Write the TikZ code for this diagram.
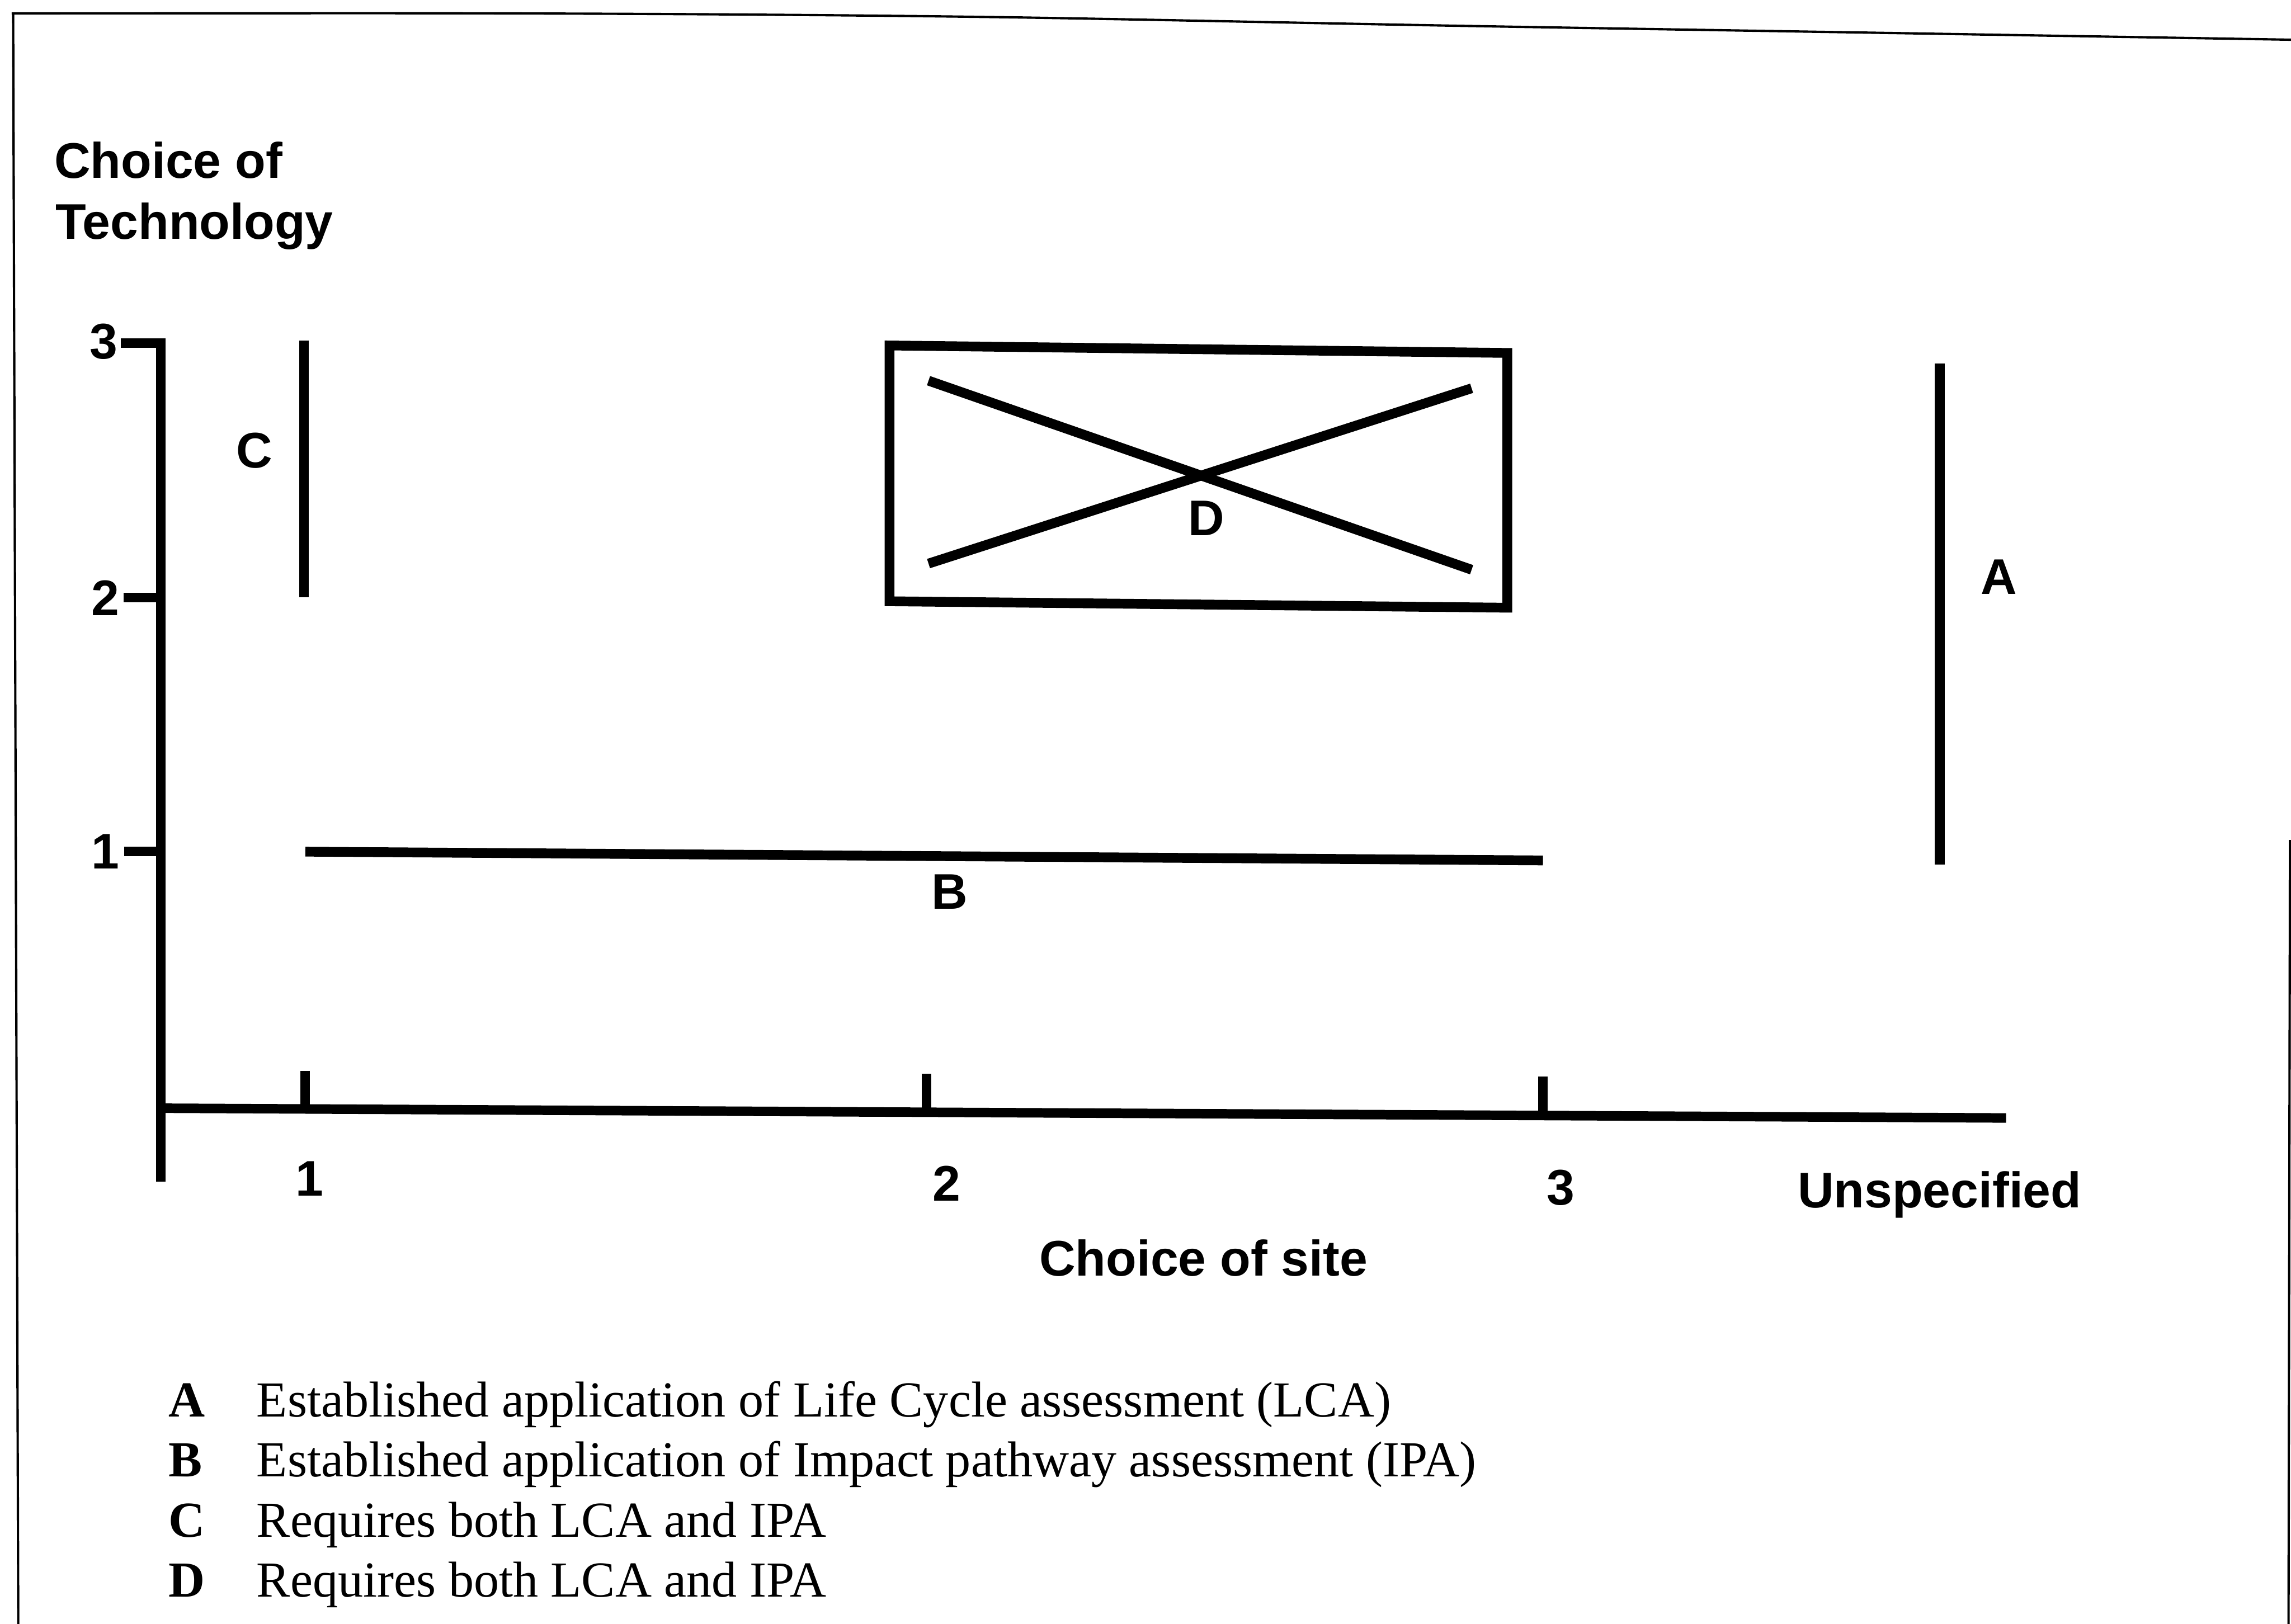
\documentclass[tikz,border=0pt]{standalone}
\usepackage{fontspec}
\setmainfont{Liberation Serif}
\setsansfont{Liberation Sans}
\newcommand\axisfont{\sffamily\bfseries\fontsize{9.75pt}{11.8pt}\selectfont}
\newcommand\keyfont{\rmfamily\fontsize{9.82pt}{11.7pt}\selectfont}
\begin{document}
\begin{tikzpicture}[x=0.1mm,y=-0.1mm,
  axisline/.style={line width=1.85pt},
  bar/.style={line width=1.9pt},
  framing/.style={line width=0.45pt},
  lbl/.style={font=\axisfont, inner sep=0pt},
  keyletter/.style={font=\keyfont\bfseries, inner sep=0pt, anchor=base west},
  keytext/.style={font=\keyfont, inner sep=0pt, anchor=base west}]
\useasboundingbox (0,0) rectangle (1568,1111.6);
\fill[white] (0,0) rectangle (1568,1111.6);

% outer frame
\draw[framing] plot[smooth] coordinates {(8,9.2) (300,9.1) (500,9.9) (700,12) (1000,17.7) (1300,22.7) (1568,27.2)};
\coordinate (fl1) at (9,9.2);
\coordinate (fl2) at (12.5,1111.6);
\coordinate (fr1) at (1567.3,575);
\coordinate (fr2) at (1566.3,1111.6);
\draw[framing] (fl1) -- (fl2);
\draw[framing] (fr1) -- (fr2);

% vertical axis with ticks
\coordinate (ytop) at (110,234.7);
\coordinate (ybot) at (110,809);
\coordinate (t3) at (82.7,234.7);
\coordinate (t2) at (84.6,409);
\coordinate (t1) at (85,583);
\draw[axisline, line join=miter] (t3) -- (ytop) -- (ybot);
\draw[axisline] (t2) -- (t2 -| ytop);
\draw[axisline] (t1) -- (t1 -| ytop);

% horizontal axis with ticks
\coordinate (x0) at (110,758.6);
\coordinate (xend) at (1373,765.3);
\draw[axisline] (x0) -- (xend);
\coordinate (xt1a) at (209,733);   \coordinate (xt1b) at (209,760);
\coordinate (xt2a) at (634,735);   \coordinate (xt2b) at (634,762);
\coordinate (xt3a) at (1056,737);  \coordinate (xt3b) at (1056,764);
\draw[axisline] (xt1a) -- (xt1b);
\draw[axisline] (xt2a) -- (xt2b);
\draw[axisline] (xt3a) -- (xt3b);

% axis numbers and titles
\node[lbl] (y3) at (71,234) {3};
\node[lbl] (y2) at (72,409.5) {2};
\node[lbl] (y1) at (72,583) {1};
\node[lbl] (x1) at (212,807) {1};
\node[lbl] (x2) at (648,810) {2};
\node[lbl] (x3) at (1068,813) {3};
\node[lbl, anchor=base] (xu) at (1327.5,826.7) {Unspecified};
\node[lbl, anchor=base] (xtitle) at (823.7,873.4) {Choice of site};
\node[lbl, anchor=base west] (ytitleA) at (36.5,122) {Choice of};
\node[lbl, anchor=base west] (ytitleB) at (37.5,163.6) {Technology};

% region C
\coordinate (c1) at (208,233);
\coordinate (c2) at (208,409);
\draw[bar] (c1) -- (c2);
\node[lbl] (lC) at (174,308.6) {C};

% region B
\coordinate (b1) at (209,583);
\coordinate (b2) at (1056,589);
\draw[bar] (b1) -- (b2);
\node[lbl] (lB) at (650,610.5) {B};

% region A
\coordinate (a1) at (1327.5,249);
\coordinate (a2) at (1327.5,592);
\draw[bar] (a1) -- (a2);
\node[lbl] (lA) at (1368,395) {A};

% region D: crossed-out box
\coordinate (d1) at (608.8,236.5);
\coordinate (d2) at (1031.6,241.6);
\coordinate (d3) at (1031.6,416);
\coordinate (d4) at (608.8,411.6);
\draw[bar, line join=miter] (d1) -- (d2) -- (d3) -- (d4) -- cycle;
\coordinate (k1) at (635.5,260.6);
\coordinate (k2) at (1007.2,390);
\coordinate (k3) at (635.5,385.8);
\coordinate (k4) at (1007.2,265.8);
\draw[bar] (k1) -- (k2);
\draw[bar] (k3) -- (k4);
\node[lbl] (lD) at (825.7,354.6) {D};

% key
\node[keyletter] (kA) at (114.7,970) {A};
\node[keytext]   (kAt) at (175,970) {Established application of Life Cycle assessment (LCA)};
\node[keyletter] (kB) at (114.7,1011) {B};
\node[keytext]   (kBt) at (175,1011) {Established application of Impact pathway assessment (IPA)};
\node[keyletter] (kC) at (114.7,1052) {C};
\node[keytext]   (kCt) at (175,1052) {Requires both LCA and IPA};
\node[keyletter] (kD) at (114.7,1093) {D};
\node[keytext]   (kDt) at (175,1093) {Requires both LCA and IPA};
\end{tikzpicture}
\end{document}
